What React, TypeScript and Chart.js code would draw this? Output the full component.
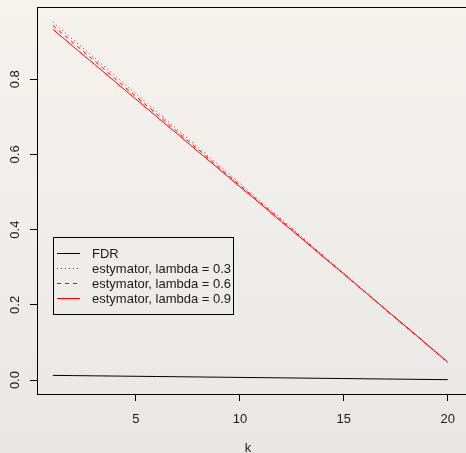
import React, { useEffect, useRef } from "react";
import { Chart, registerables } from "chart.js";

Chart.register(...registerables);

const kValues = [1, 2, 3, 4, 5, 6, 7, 8, 9, 10, 11, 12, 13, 14, 15, 16, 17, 18, 19, 20];
const fdrValues = [0.0125, 0.0119, 0.0113, 0.0107, 0.0101, 0.0095, 0.0089, 0.0083, 0.0077, 0.0071, 0.0065, 0.0059, 0.0053, 0.0047, 0.0041, 0.0035, 0.0029, 0.0023, 0.0017, 0.0011];
const est03Values = [0.952, 0.904, 0.857, 0.809, 0.761, 0.714, 0.666, 0.618, 0.571, 0.523, 0.475, 0.428, 0.380, 0.332, 0.285, 0.237, 0.189, 0.141, 0.094, 0.046];
const est06Values = [0.943, 0.896, 0.849, 0.801, 0.754, 0.707, 0.660, 0.613, 0.565, 0.518, 0.471, 0.424, 0.377, 0.329, 0.282, 0.235, 0.188, 0.141, 0.094, 0.047];
const est09Values = [0.933, 0.886, 0.840, 0.793, 0.747, 0.700, 0.654, 0.607, 0.561, 0.514, 0.468, 0.421, 0.375, 0.328, 0.282, 0.235, 0.188, 0.142, 0.095, 0.048];
const seriesLabels = ["FDR", "estymator, lambda = 0.3", "estymator, lambda = 0.6", "estymator, lambda = 0.9"];
const seriesColors = ["#000000", "#ff0000", "#ff0000", "#ff0000"];
const seriesDashes: number[][] = [[], [1, 3], [4, 4], []];
const xTickValues = [5, 10, 15, 20];
const yTickValues = [0, 0.2, 0.4, 0.6, 0.8];
const xTitle = "k";

const FONT = '"Liberation Sans", Arial, Helvetica, sans-serif';
const TEXT = "#1a1a1a";

export default function App() {
  const ref = useRef<HTMLCanvasElement>(null);

  useEffect(() => {
    if (!ref.current) return;

    const rPlot = {
      id: "rPlot",
      afterDraw(chart: any) {
        const { ctx, chartArea: a, scales } = chart;
        ctx.save();
        ctx.setLineDash([]);
        // plot box
        ctx.strokeStyle = "#000";
        ctx.lineWidth = 1;
        ctx.strokeRect(Math.round(a.left) + 0.5, Math.round(a.top) + 0.5, a.right - a.left + 20, Math.round(a.bottom) - Math.round(a.top));
        // y tick labels (rotated, R style)
        ctx.fillStyle = TEXT;
        ctx.font = `13px ${FONT}`;
        ctx.textAlign = "center";
        ctx.textBaseline = "alphabetic";
        for (const v of yTickValues) {
          const y = scales.y.getPixelForValue(v);
          ctx.save();
          ctx.translate(19, y);
          ctx.rotate(-Math.PI / 2);
          ctx.fillText(v.toFixed(1), 0, 0);
          ctx.restore();
        }
        // legend
        const lx = Math.round(scales.x.getPixelForValue(1));
        const ly = Math.round(scales.y.getPixelForValue(0.38));
        ctx.strokeStyle = "#000";
        ctx.strokeRect(lx + 0.5, ly + 0.5, 180, 77);
        ctx.textAlign = "left";
        ctx.textBaseline = "middle";
        seriesLabels.forEach((label, i) => {
          const yy = Math.round(ly + 15.5 + i * 15.3);
          const dash = seriesDashes[i];
          const x1 = lx + 4;
          const x2 = lx + 27;
          if (dash.length === 0) {
            ctx.fillStyle = seriesColors[i];
            ctx.fillRect(x1, yy, x2 - x1, 1);
          } else {
            ctx.save();
            ctx.strokeStyle = seriesColors[i];
            ctx.lineWidth = 1;
            ctx.setLineDash(dash);
            ctx.beginPath();
            ctx.moveTo(x1, yy + 0.5);
            ctx.lineTo(x2, yy + 0.5);
            ctx.stroke();
            ctx.restore();
          }
          ctx.fillStyle = TEXT;
          ctx.fillText(label, lx + 39, yy + 1);
        });
        ctx.restore();
      },
    };

    const seriesValues = [fdrValues, est03Values, est06Values, est09Values];

    const chart = new Chart(ref.current, {
      type: "line",
      data: {
        labels: kValues,
        datasets: seriesValues.map((vals, s) => ({
          label: seriesLabels[s],
          data: kValues.map((k, i) => ({ x: k, y: vals[i] })),
          borderColor: seriesColors[s],
          borderWidth: 1,
          borderDash: seriesDashes[s],
          pointRadius: 0,
          tension: 0,
          fill: false,
        })),
      },
      options: {
        animation: false,
        responsive: false,
        maintainAspectRatio: false,
        layout: { padding: { top: 7, left: 0, right: 0, bottom: 0 } },
        plugins: { legend: { display: false }, tooltip: { enabled: false } },
        scales: {
          x: {
            type: "linear",
            min: 0.24,
            max: 20.54,
            afterBuildTicks: (s: any) => { s.ticks = xTickValues.map((v) => ({ value: v })); },
            afterFit: (s: any) => { s.height = 59; },
            border: { display: false },
            grid: { display: true, drawOnChartArea: false, drawTicks: true, tickLength: 7, color: "#000", lineWidth: 1 },
            ticks: { color: TEXT, font: { family: FONT, size: 13 }, padding: 11, maxRotation: 0, autoSkip: false },
            title: { display: true, text: xTitle, color: TEXT, font: { family: FONT, size: 13, lineHeight: 1 }, padding: { top: 0, bottom: -2 } },
          },
          y: {
            type: "linear",
            min: -0.037,
            max: 0.992,
            afterBuildTicks: (s: any) => { s.ticks = yTickValues.map((v) => ({ value: v })); },
            afterFit: (s: any) => { s.width = 37; },
            border: { display: false },
            grid: { display: true, drawOnChartArea: false, drawTicks: true, tickLength: 7, color: "#000", lineWidth: 1 },
            ticks: { display: false },
          },
        },
      },
      plugins: [rPlot],
    } as any);

    return () => chart.destroy();
  }, []);

  return (
    <div
      style={{
        position: "fixed",
        left: 0,
        top: 0,
        width: 466,
        height: 453,
        overflow: "hidden",
        background: "linear-gradient(to bottom, #f6f2ee 0%, #efedea 55%, #e8e7e5 100%)",
      }}
    >
      <canvas ref={ref} width={466} height={453} style={{ display: "block" }} />
    </div>
  );
}
